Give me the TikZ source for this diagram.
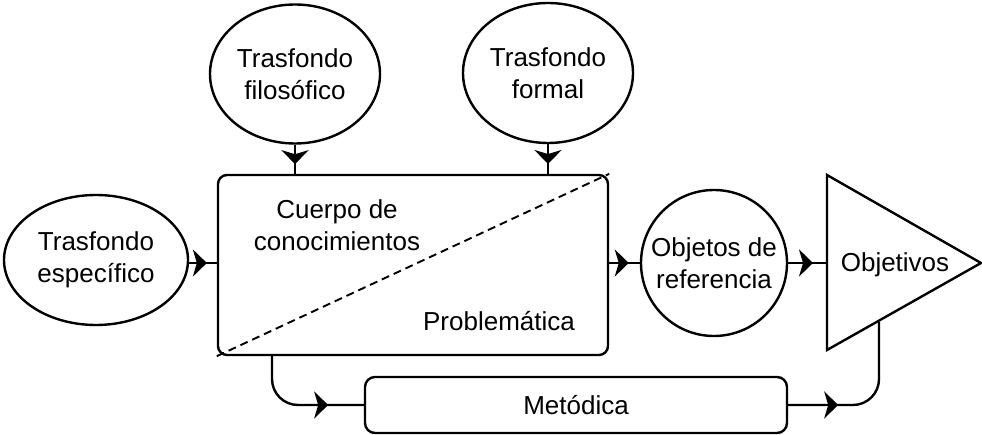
\documentclass[tikz,border=0pt]{standalone}
\usepackage{fontspec}
\setmainfont{Liberation Sans}
\usetikzlibrary{arrows.meta,decorations.markings,shapes.geometric}

\begin{document}
\begin{tikzpicture}[x=1pt, y=-1pt, line width=2.4pt,
    every node/.style={font=\fontsize{26}{32}\selectfont, align=center},
    fondo/.style={draw, ellipse, inner sep=0pt},
    caja/.style={draw, rectangle, rounded corners=9pt, inner sep=0pt},
    midtip/.style={postaction={decorate}, decoration={markings,
        mark=at position #1 with {\arrow{Stealth[length=14pt,width=27pt,inset=4pt]}}}}]
    \useasboundingbox (0,0) rectangle (982,435);
    % fondos
    \node[fondo, minimum width=184pt, minimum height=130pt] (espec) at (96,260) {Trasfondo\\específico};
    \node[fondo, minimum width=170pt, minimum height=139pt] (filo) at (295,74) {Trasfondo\\filosófico};
    \node[fondo, minimum width=170pt, minimum height=140pt] (formal) at (548,73) {Trasfondo\\formal};
    % cuerpo y problematica
    \node[caja, minimum width=390pt, minimum height=180pt] (cuerpo) at (413,265) {};
    \draw[dashed, line width=1.9pt, dash pattern=on 8pt off 5pt] (cuerpo.south west) -- (cuerpo.north east);
    \node (cuerpotxt) at (337,225) {Cuerpo de\\conocimientos};
    \node (probl) at (499,321) {Problemática};
    % objetos y objetivos
    \node[draw, circle, minimum size=146pt, inner sep=0pt] (ref) at (714,263) {Objetos de\\referencia};
    \draw (827,175) -- (981,263) -- (827,350) -- cycle;
    \node (objtxt) at (895,265) {Objetivos};
    \coordinate (objw) at (827,263);
    \coordinate (objs) at (879,322);
    % metodica
    \node[caja, minimum width=422pt, minimum height=56pt, rounded corners=10pt] (metod) at (576,405) {Metódica};
    \coordinate (cuerpob) at (272,355);
    % conectores
    \draw[midtip=0.64] (espec.east |- 0,263) -- (cuerpo.west |- 0,263);
    \draw[midtip=0.67] (filo.south) -- (filo.south |- cuerpo.north);
    \draw[midtip=0.67] (formal.south) -- (formal.south |- cuerpo.north);
    \draw[midtip=0.64] (cuerpo.east |- ref.west) -- (ref.west);
    \draw[midtip=0.64] (ref.east) -- (objw);
    \draw[midtip=95pt, rounded corners=26pt] (cuerpob) |- (metod.west);
    \draw[midtip=50pt, rounded corners=26pt] (metod.east) -| (objs);
\end{tikzpicture}
\end{document}
